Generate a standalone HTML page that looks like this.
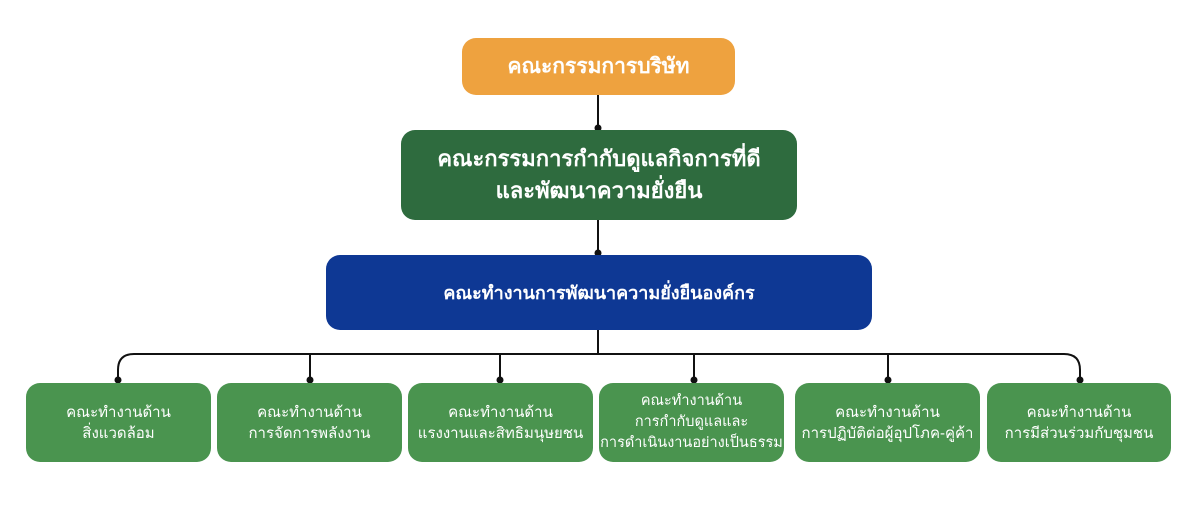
<!DOCTYPE html>
<html><head><meta charset="utf-8"><style>
body{margin:0;width:1200px;height:505px;background:#fff;position:relative;overflow:hidden;font-family:"Liberation Sans","DejaVu Sans",sans-serif}
.b{position:absolute;display:flex;align-items:center;justify-content:center;text-align:center;color:#fff;box-sizing:border-box}
.c{top:383px;height:79px;background:#4a944f;border-radius:14px;font-size:15px;line-height:21px}
</style></head><body>
<svg width="1200" height="505" style="position:absolute;left:0;top:0">
<g stroke="#111" stroke-width="2" fill="none">
<line x1="598" y1="95" x2="598" y2="128"/>
<line x1="598" y1="220" x2="598" y2="253"/>
<line x1="598" y1="330" x2="598" y2="354"/>
<path d="M118 380 V370 Q118 354 134 354 H1064 Q1080 354 1080 370 V380"/>
<line x1="310" y1="354" x2="310" y2="380"/>
<line x1="500" y1="354" x2="500" y2="380"/>
<line x1="694" y1="354" x2="694" y2="380"/>
<line x1="888" y1="354" x2="888" y2="380"/>
</g>
<g fill="#111">
<circle cx="598" cy="128" r="3.5"/><circle cx="598" cy="253" r="3.5"/>
<circle cx="118" cy="380" r="3.5"/><circle cx="310" cy="380" r="3.5"/><circle cx="500" cy="380" r="3.5"/>
<circle cx="694" cy="380" r="3.5"/><circle cx="888" cy="380" r="3.5"/><circle cx="1080" cy="380" r="3.5"/>
</g></svg>
<div class="b" style="left:462px;top:38px;width:273px;height:57px;background:#eea23f;border-radius:14px;font-weight:bold;font-size:21px">คณะกรรมการบริษัท</div>
<div class="b" style="left:401px;top:130px;width:396px;height:90px;background:#2e6b3e;border-radius:14px;font-weight:bold;font-size:22px;line-height:32px">คณะกรรมการกำกับดูแลกิจการที่ดี<br>และพัฒนาความยั่งยืน</div>
<div class="b" style="left:326px;top:255px;width:546px;height:75px;background:#0e3894;border-radius:14px;font-weight:bold;font-size:18px">คณะทำงานการพัฒนาความยั่งยืนองค์กร</div>
<div class="b c" style="left:26px;width:185px">คณะทำงานด้าน<br>สิ่งแวดล้อม</div>
<div class="b c" style="left:217px;width:185px">คณะทำงานด้าน<br>การจัดการพลังงาน</div>
<div class="b c" style="left:408px;width:185px">คณะทำงานด้าน<br>แรงงานและสิทธิมนุษยชน</div>
<div class="b c" style="left:599px;width:185px;font-size:14.5px">คณะทำงานด้าน<br>การกำกับดูแลและ<br>การดำเนินงานอย่างเป็นธรรม</div>
<div class="b c" style="left:795px;width:185px">คณะทำงานด้าน<br>การปฏิบัติต่อผู้อุปโภค-คู่ค้า</div>
<div class="b c" style="left:987px;width:184px">คณะทำงานด้าน<br>การมีส่วนร่วมกับชุมชน</div>
</body></html>
